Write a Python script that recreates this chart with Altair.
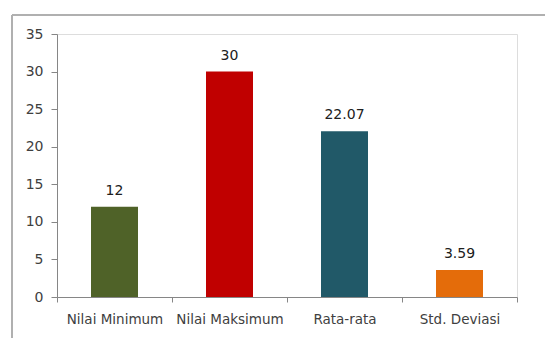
import altair as alt
import pandas as pd

categories = ["Nilai Minimum", "Nilai Maksimum", "Rata-rata", "Std. Deviasi"]
values = [12, 30, 22.07, 3.59]
labels = ["12", "30", "22.07", "3.59"]
colors = ["#4F6228", "#C00000", "#215968", "#E46C0A"]

df = pd.DataFrame({"cat": categories, "val": values, "lab": labels, "col": colors})

FONT = "DejaVu Sans"
x = alt.X("cat:N", sort=categories, title=None,
          scale=alt.Scale(paddingInner=0, paddingOuter=0),
          axis=alt.Axis(labelAngle=0, tickBand="extent", labelFontSize=13.5, labelFont=FONT,
                        labelColor="#404040", domainColor="#868686", tickColor="#868686",
                        tickSize=5, labelPadding=10))
y = alt.Y("val:Q", title=None, scale=alt.Scale(domain=[0, 35], nice=False),
          axis=alt.Axis(values=[0, 5, 10, 15, 20, 25, 30, 35], grid=False, labelFontSize=14,
                        labelFont=FONT, labelColor="#404040", domainColor="#868686",
                        tickColor="#868686", tickSize=6, labelPadding=8))

bars = alt.Chart(df).mark_bar(size=47).encode(
    x=x, y=y, color=alt.Color("col:N", scale=None))
text = alt.Chart(df).mark_text(baseline="alphabetic", dy=-12, fontSize=14, font=FONT,
                               color="#202020").encode(x=x, y=y, text="lab:N")

border_top = alt.Chart(df).mark_rule(color="#B0B0B0", strokeWidth=1.5).encode(
    x=alt.value(-45), x2=alt.value(500), y=alt.value(-19))
border_left = alt.Chart(df).mark_rule(color="#B0B0B0", strokeWidth=1.5).encode(
    x=alt.value(-45), y=alt.value(-19), y2=alt.value(310))

chart = alt.layer(border_top, border_left, bars, text).properties(
    width=460, height=263,
    autosize=alt.AutoSizeParams(type="none"),
    padding={"left": 57, "top": 34, "right": 28, "bottom": 41},
).configure_view(stroke=None).configure(background="white")

chart.save("out.html", embed_options={"renderer": "svg", "actions": False})
